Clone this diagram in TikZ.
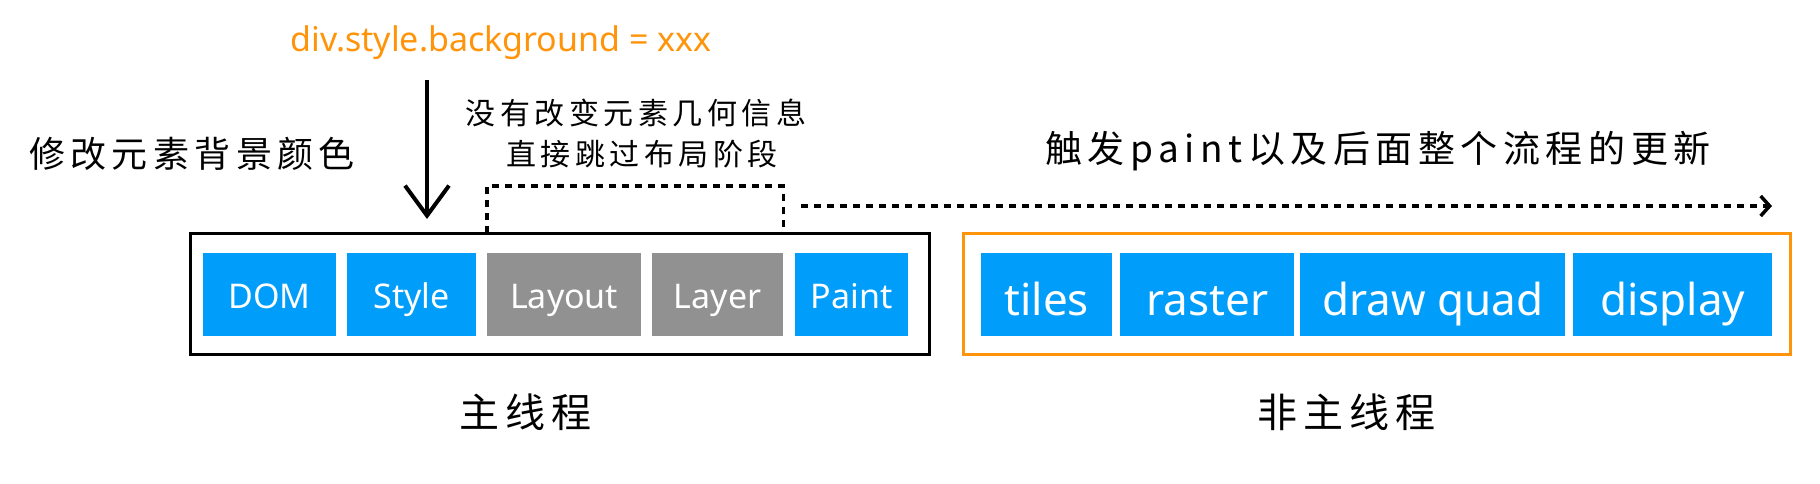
\documentclass[tikz,border=0pt]{standalone}
\usepackage{fontspec}
\setmainfont{Noto Sans}
\newfontfamily\cjk[LetterSpace=15]{Noto Sans CJK SC}
\usetikzlibrary{arrows.meta}
\definecolor{bblue}{RGB}{0,158,250}
\definecolor{bgray}{RGB}{145,145,145}
\definecolor{borange}{RGB}{255,148,10}
\tikzset{
  stage/.style={anchor=north west, inner sep=0pt, minimum height=83pt, text=white, text height=27pt, text depth=0pt, font=\fontsize{34}{40}\selectfont},
  stagebig/.style={stage, text height=42pt, font=\fontsize{44}{50}\selectfont},
  blue/.style={fill=bblue},
  grey/.style={fill=bgray},
  frame/.style={line width=3pt},
  dashline/.style={line width=3.2pt, dash pattern=on 7pt off 6pt},
  cn/.style={font=\cjk\fontsize{#1}{#1}\selectfont, inner sep=0pt}
}
\begin{document}
\begin{tikzpicture}[x=1pt,y=-1pt]
\useasboundingbox (0,0) rectangle (1820,484);
% frames
\draw[frame] (190,233) rectangle (929,354);
\node[inner sep=0pt, minimum width=739pt, minimum height=121pt, anchor=north west] (mainbox) at (190,233) {};
\draw[frame, borange] (963,233) rectangle (1790,354);
\node[inner sep=0pt, minimum width=827pt, minimum height=121pt, anchor=north west] (otherbox) at (963,233) {};
% stages
\node[stage, blue, minimum width=133pt] (dom) at (203,253) {DOM};
\node[stage, blue, minimum width=129pt] (style) at (347,253) {Style};
\node[stage, grey, minimum width=154pt] (layout) at (487,253) {Layout};
\node[stage, grey, minimum width=131pt] (layer) at (652,253) {Layer};
\node[stage, blue, minimum width=113pt] (paint) at (795,253) {Paint};
\node[stagebig, blue, minimum width=131pt] (tiles) at (981,253) {tiles};
\node[stagebig, blue, minimum width=174pt] (raster) at (1120,253) {raster};
\node[stagebig, blue, minimum width=265pt] (quad) at (1300,253) {draw quad};
\node[stagebig, blue, minimum width=199pt] (display) at (1573,253) {display};
% texts
\node[text=borange, font=\fontsize{34}{38}\selectfont, inner sep=0pt] (code) at (501,43) {div.style.background = xxx};
\node[cn=36] (modify) at (192,154) {修改元素背景颜色};
\node[cn=30] (nogeo) at (636,113) {没有改变元素几何信息};
\node[cn=30] (skip) at (642,154) {直接跳过布局阶段};
\node[cn=37] (trigger) at (1378,151) {触发paint以及后面整个流程的更新};
\node[cn=40] (mainlbl) at (525,412) {主线程};
\node[cn=40] (otherlbl) at (1346,412) {非主线程};
% arrows
\coordinate (atop) at (427,80);
\coordinate (abot) at (427,219);
\draw[line width=3.5pt, -{Straight Barb[length=30pt, width=44pt, line width=4pt]}] (atop) -- (abot);
\draw[dashline] (layout.west |- mainbox.north) -- ++(0,-47) -| (layer.east |- mainbox.north);
\coordinate (dstart) at (801,206);
\coordinate (dend) at (1772,206);
\draw[dashline, -{Straight Barb[length=9pt, width=20pt, line width=3.5pt]}] (dstart) -- (dend);
\end{tikzpicture}
\end{document}
